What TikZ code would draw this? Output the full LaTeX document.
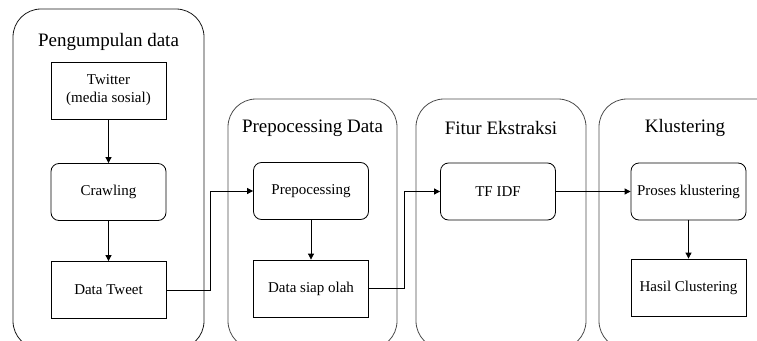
\documentclass[tikz,border=0pt]{standalone}
\usepackage{fontspec}
\setmainfont{Liberation Serif}
\usetikzlibrary{arrows.meta}
\begin{document}
\begin{tikzpicture}[x=1pt,y=-1pt,
  container/.style={draw=black!70, line width=0.8pt, rounded corners=28pt},
  title/.style={font=\fontsize{19}{22}\selectfont, anchor=center},
  sqbox/.style={draw, line width=0.8pt, minimum width=115pt, minimum height=57pt, align=center, font=\fontsize{15}{18}\selectfont, inner sep=0pt},
  rbox/.style={sqbox, rounded corners=8pt},
  conn/.style={draw, line width=0.8pt, -{Triangle[length=6pt,width=6pt]}}]
\useasboundingbox (0,0) rectangle (757,340);
\begin{scope}
\clip (0,0) rectangle (757,340);
\draw[container, draw=black!90] (13,9) rectangle (204,349);
\draw[container] (228,99) rectangle (397,349);
\draw[container] (416,99) rectangle (586,349);
\draw[container] (599,99) rectangle (790,349);
\end{scope}
\node[title] (t1) at (108.5,42) {Pengumpulan data};
\node[title] (t2) at (312.5,128) {Prepocessing Data};
\node[title] (t3) at (501,128) {Fitur Ekstraksi};
\node[title] (t4) at (685,128) {Klustering};
\node[sqbox] (tw) at (108.5,90.5) {Twitter\\(media sosial)};
\node[rbox] (cr) at (108.5,192) {Crawling};
\node[sqbox] (dt) at (108.5,290) {Data Tweet};
\node[rbox] (pp) at (311,191) {Prepocessing};
\node[sqbox] (ds) at (311,288.5) {Data siap olah};
\node[rbox] (tf) at (498,191.5) {TF IDF};
\node[rbox] (pk) at (688.5,191.5) {Proses klustering};
\node[sqbox] (hc) at (688.5,287.5) {Hasil Clustering};
\coordinate (b1) at (210,0);
\coordinate (b2) at (404,0);
\draw[conn] (tw) -- (cr);
\draw[conn] (cr) -- (dt);
\draw[conn] (dt.east) -| (b1 |- pp.west) -- (pp.west);
\draw[conn] (pp) -- (ds);
\draw[conn] (ds.east) -| (b2 |- tf.west) -- (tf.west);
\draw[conn] (tf) -- (pk);
\draw[conn] (pk) -- (hc);
\end{tikzpicture}
\end{document}
